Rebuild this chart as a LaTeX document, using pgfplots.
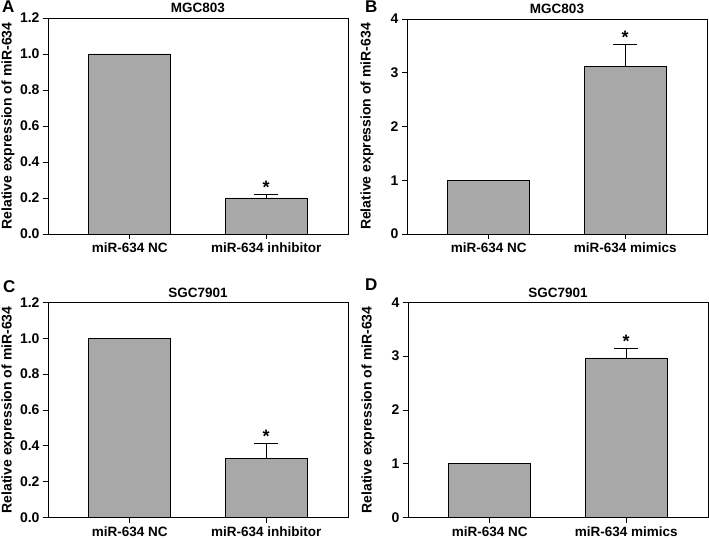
\documentclass[border=0pt]{standalone}
\usepackage{pgfplots}
\pgfplotsset{compat=1.18}
\usepackage{fontspec}
\setmainfont{Liberation Sans}
\definecolor{barfill}{RGB}{168,168,168}
\tikzset{ast/.style={anchor=base, font=\fontsize{18}{18}\selectfont\bfseries, yshift=1pt}}
\pgfplotsset{
  panel/.style={
    scale only axis, width=300pt,
    xmin=-0.6, xmax=1.6, ymin=0,
    xtick={0,1},
    tick align=outside, xtick pos=left, ytick pos=left,
    major tick length=5pt,
    axis line style={line width=0.9pt},
    every tick/.style={black, line width=0.9pt},
    /pgf/number format/assume math mode=true,
    tick label style={font=\fontsize{14}{16}\selectfont\bfseries},
    ylabel={Relative expression of miR-634},
    ylabel style={font=\fontsize{14}{16}\selectfont\bfseries, at={(axis description cs:-0.1,0.5)}, anchor=south},
    title style={font=\fontsize{13.5}{15}\selectfont\bfseries, at={(axis description cs:0.5,1)}, anchor=base},
    xticklabel style={font=\fontsize{13.5}{15}\selectfont\bfseries},
    ybar, bar width=0.6,
  },
  barst/.style={fill=barfill, draw=black, line width=0.9pt,
    error bars/.cd, y dir=plus, y explicit,
    error bar style={line width=0.9pt, black},
    error mark options={rotate=90, mark size=12pt, line width=0.9pt, black}},
}
\begin{document}
\begin{tikzpicture}
\useasboundingbox (0,0) rectangle (709pt,540pt);
% Panel A
\begin{axis}[panel, at={(48pt,306pt)}, anchor=south west, height=216pt,
  ymax=1.2, ytick={0,0.2,0.4,0.6,0.8,1.0,1.2},
  yticklabel style={/pgf/number format/.cd, fixed, fixed zerofill, precision=1},
  xticklabels={miR-634 NC, miR-634 inhibitor},
  title={MGC803}, title style={yshift=-0.5pt}]
\addplot[barst] coordinates {(0,1.0) +- (0,0) (1,0.20) +- (0,0.02)};
\node[ast] at (axis cs:1,0.22) {*};
\end{axis}
% Panel B
\begin{axis}[panel, at={(407pt,306pt)}, anchor=south west, height=215pt,
  ymax=4, ytick={0,1,2,3,4},
  xticklabels={miR-634 NC, miR-634 mimics},
  title={MGC803}, title style={yshift=-0.5pt}]
\addplot[barst] coordinates {(0,1.0) +- (0,0) (1,3.12) +- (0,0.40)};
\node[ast] at (axis cs:1,3.52) {*};
\end{axis}
% Panel C
\begin{axis}[panel, at={(48pt,22.3pt)}, anchor=south west, height=215.4pt,
  ymax=1.2, ytick={0,0.2,0.4,0.6,0.8,1.0,1.2},
  yticklabel style={/pgf/number format/.cd, fixed, fixed zerofill, precision=1},
  xticklabels={miR-634 NC, miR-634 inhibitor},
  title={SGC7901}, title style={yshift=-1.5pt}]
\addplot[barst] coordinates {(0,1.0) +- (0,0) (1,0.331) +- (0,0.081)};
\node[ast] at (axis cs:1,0.412) {*};
\end{axis}
% Panel D
\begin{axis}[panel, at={(408pt,22.3pt)}, anchor=south west, height=215.4pt,
  ymax=4, ytick={0,1,2,3,4},
  xticklabels={miR-634 NC, miR-634 mimics},
  title={SGC7901}, title style={yshift=-1.5pt}]
\addplot[barst] coordinates {(0,1.0) +- (0,0) (1,2.966) +- (0,0.18)};
\node[ast] at (axis cs:1,3.146) {*};
\end{axis}
% Panel letters
\node[anchor=base west, inner sep=0pt, font=\fontsize{17}{18}\selectfont\bfseries] at (2pt,527pt) {A};
\node[anchor=base west, inner sep=0pt, font=\fontsize{17}{18}\selectfont\bfseries] at (365pt,527pt) {B};
\node[anchor=base west, inner sep=0pt, font=\fontsize{17}{18}\selectfont\bfseries] at (3pt,247pt) {C};
\node[anchor=base west, inner sep=0pt, font=\fontsize{17}{18}\selectfont\bfseries] at (365pt,249pt) {D};
\end{tikzpicture}
\end{document}
